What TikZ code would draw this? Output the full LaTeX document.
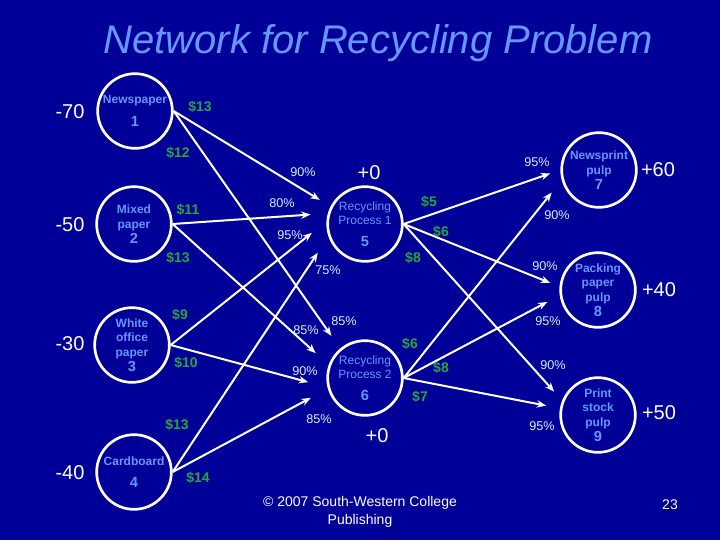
\documentclass[tikz,border=0pt]{standalone}
\usepackage{fontspec}
\setmainfont{Liberation Sans}
\usetikzlibrary{arrows.meta}

\definecolor{slidebg}{RGB}{0,0,153}
\definecolor{nodetext}{RGB}{102,150,255}
\definecolor{costgreen}{RGB}{40,165,60}
\definecolor{pctcyan}{RGB}{210,240,255}

\begin{document}
\begin{tikzpicture}[x=0.75pt,y=-0.75pt]
\tikzset{
  facility/.style={circle,draw=white,line width=2pt,minimum size=56pt,inner sep=0pt,
    align=center,text=nodetext,font=\fontsize{9}{11}\selectfont\bfseries},
  flow/.style={draw=white,line width=1.5pt},
  directed/.style={flow,shorten >=#1,-{Stealth[length=7pt,width=5.5pt]}},
  directed/.default=10pt,
  supply/.style={text=white,font=\fontsize{15}{17}\selectfont},
  cost/.style={text=costgreen,font=\fontsize{10.5}{12}\selectfont\bfseries},
  yield/.style={text=pctcyan,font=\fontsize{9.5}{11}\selectfont}
}
\fill[slidebg] (0,0) rectangle (720,540);
\useasboundingbox (0,0) rectangle (720,540);
\node[text=nodetext,font=\fontsize{30}{34}\selectfont\itshape] (title) at (378,43) {Network for Recycling Problem};
% supply nodes
\node[facility] (n_news) at (135,111) {Newspaper\\[6pt]{\fontsize{11}{12}\selectfont 1}};
\node[facility] (n_mixed) at (134,224) {Mixed\\paper\\{\fontsize{11}{12}\selectfont 2}};
\node[facility] (n_white) at (132,345) {White\\office\\paper\\{\fontsize{11}{12}\selectfont 3}};
\node[facility] (n_card) at (134,472) {Cardboard\\[6pt]{\fontsize{11}{12}\selectfont 4}};
% recycling processes
\node[facility,font=\fontsize{9}{11}\selectfont] (n_rp1) at (365,224) {Recycling\\Process 1\\[5pt]{\fontsize{11}{12}\selectfont\bfseries 5}};
\node[facility,font=\fontsize{9}{11}\selectfont] (n_rp2) at (365,378) {Recycling\\Process 2\\[5pt]{\fontsize{11}{12}\selectfont\bfseries 6}};
% pulp products
\node[facility] (n_newsprint) at (599,170) {Newsprint\\pulp\\{\fontsize{11}{12}\selectfont 7}};
\node[facility] (n_packing) at (598,290) {Packing\\paper\\pulp\\{\fontsize{11}{12}\selectfont 8}};
\node[facility] (n_printstock) at (598,415) {Print\\stock\\pulp\\{\fontsize{11}{12}\selectfont 9}};
% supplies and demands
\node[supply] (s_news) at (70,112) {-70};
\node[supply] (s_mixed) at (70,225) {-50};
\node[supply] (s_white) at (70,344) {-30};
\node[supply] (s_card) at (70,473) {-40};
\node[supply] (d_rp1) at (369,173) {+0};
\node[supply] (d_rp2) at (377,436) {+0};
\node[supply] (d_newsprint) at (658,170) {+60};
\node[supply] (d_packing) at (659,290) {+40};
\node[supply] (d_printstock) at (659,413) {+50};
% arcs into recycling process 1
\draw[directed=9.5pt] (n_news.east) -- (n_rp1.153);
\draw[directed=13pt] (n_mixed.east) -- (n_rp1.164);
\draw[directed=14pt] (n_white.east) -- (n_rp1.176);
\draw[directed=14.5pt] (n_card.east) -- (n_rp1.199);
% arcs into recycling process 2
\draw[directed=11.5pt] (n_news.east) -- (n_rp2.130);
\draw[directed=13pt] (n_mixed.east) -- (n_rp2.160);
\draw[directed=15pt] (n_white.east) -- (n_rp2.194);
\draw[directed=14.5pt] (n_card.east) -- (n_rp2.196);
% arcs out to the pulps
\draw[directed=8pt] (n_rp1.east) -- (n_newsprint.180);
\draw[directed=7.5pt] (n_rp1.east) -- (n_packing.175);
\draw[directed=9pt] (n_rp1.east) -- (n_printstock.158);
\draw[directed=12pt] (n_rp2.east) -- (n_newsprint.195);
\draw[directed=10.5pt] (n_rp2.east) -- (n_packing.188);
\draw[directed=10.5pt] (n_rp2.east) -- (n_printstock.170);
% costs
\node[cost] (c_15) at (200,107) {\$13};
\node[cost] (c_16) at (178,153) {\$12};
\node[cost] (c_25) at (188,210) {\$11};
\node[cost] (c_26) at (178,258) {\$13};
\node[cost] (c_35) at (180,315) {\$9};
\node[cost] (c_36) at (186,363) {\$10};
\node[cost] (c_45) at (177,425) {\$13};
\node[cost] (c_46) at (198,478) {\$14};
\node[cost] (c_57) at (429,202) {\$5};
\node[cost] (c_58) at (441,232) {\$6};
\node[cost] (c_59) at (413,258) {\$8};
\node[cost] (c_67) at (410,344) {\$6};
\node[cost] (c_68) at (441,368) {\$8};
\node[cost] (c_69) at (420,397) {\$7};
% yields
\node[yield] (y_15) at (303,172) {90\%};
\node[yield] (y_25) at (282,203) {80\%};
\node[yield] (y_35) at (290,235) {95\%};
\node[yield] (y_45) at (328,270) {75\%};
\node[yield] (y_26) at (306,330) {85\%};
\node[yield] (y_16) at (344,321) {85\%};
\node[yield] (y_36) at (305,371) {90\%};
\node[yield] (y_46) at (319,419) {85\%};
\node[yield] (y_57) at (537,162) {95\%};
\node[yield] (y_67) at (557,215) {90\%};
\node[yield] (y_58) at (545,266) {90\%};
\node[yield] (y_68) at (548,321) {95\%};
\node[yield] (y_59) at (553,365) {90\%};
\node[yield] (y_69) at (542,426) {95\%};
% footer
\node[text=white,align=center,font=\fontsize{10.5}{13}\selectfont] (credit) at (360,512) {© 2007 South-Western College\\Publishing};
\node[text=white,font=\fontsize{10.5}{13}\selectfont] (pageno) at (670,505) {23};
\end{tikzpicture}
\end{document}
